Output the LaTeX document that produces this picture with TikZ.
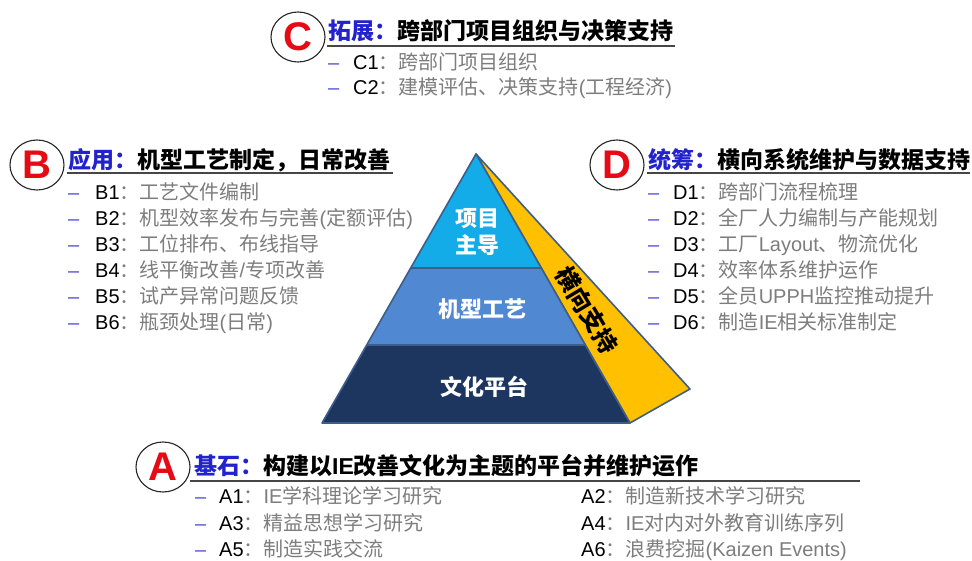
\documentclass[tikz,border=0pt]{standalone}
\usepackage{fontspec}
\usetikzlibrary{shapes.geometric}
\setmainfont{Liberation Sans}
\newfontfamily\cjk{Noto Sans CJK SC}
\newcommand{\zh}[1]{{\cjk #1}}
\definecolor{tblue}{RGB}{35,35,205}
\definecolor{dblue}{RGB}{80,80,210}
\definecolor{tgray}{RGB}{125,125,125}
\definecolor{pyrA}{RGB}{20,172,232}
\definecolor{pyrB}{RGB}{80,137,210}
\definecolor{pyrC}{RGB}{28,54,95}
\definecolor{pyrLine}{RGB}{62,94,137}
\definecolor{yel}{RGB}{255,192,0}
\definecolor{lred}{RGB}{230,10,20}
\definecolor{uline}{RGB}{70,70,70}
\begin{document}
\begin{tikzpicture}[x=1pt,y=-1pt,
  circ/.style={ellipse, draw=black!85, line width=1.1pt, fill=white,
    minimum width=54pt, minimum height=50pt, inner sep=0pt,
    text=lred, font=\fontsize{40}{40}\selectfont\bfseries},
  ttl/.style={anchor=base west, inner sep=0pt, font=\fontsize{23}{23}\selectfont\bfseries\cjk},
  itm/.style={anchor=base west, inner sep=0pt, font=\fontsize{20}{20}\selectfont},
  dsh/.style={itm, text=dblue},
  ul/.style={draw=uline, line width=1.4pt},
  layer/.style={draw=pyrLine, line width=1.6pt, line join=round},
  ptxt/.style={text=white, inner sep=0pt, font=\fontsize{22}{22}\selectfont\bfseries\cjk}
]
\useasboundingbox (0,0) rectangle (972,561);

% ---------- pyramid ----------
\coordinate (apex) at (476,154);
\coordinate (bl) at (322,423);
\coordinate (br) at (630,423);
\coordinate (l1) at (410.7,268);
\coordinate (r1) at (541.3,268);
\coordinate (l2) at (366.7,345);
\coordinate (r2) at (585.3,345);
\coordinate (yo) at (690,389);
\filldraw[layer, fill=yel] (apex) -- (yo) -- (br) -- cycle;
\filldraw[layer, fill=pyrC] (l2) -- (r2) -- (br) -- (bl) -- cycle;
\filldraw[layer, fill=pyrB] (l1) -- (r1) -- (r2) -- (l2) -- cycle;
\filldraw[layer, fill=pyrA] (apex) -- (r1) -- (l1) -- cycle;
\node[ptxt] (p1a) at (477,219) {项目};
\node[ptxt] (p1b) at (477,245) {主导};
\node[ptxt] (p2) at (482,309) {机型工艺};
\node[ptxt] (p3) at (484,387) {文化平台};
\node[inner sep=0pt, rotate=-59, font=\fontsize{24}{24}\selectfont\bfseries\cjk] (side) at (587,310) {横向支持};

% ---------- C ----------
\node[circ] (cC) at (298,37) {C};
\node[ttl] (tC) at (328,39.7) {\textcolor{tblue}{拓展：}跨部门项目组织与决策支持};
\draw[ul] (327,46) -- (675,46);
\node[dsh] (dC1) at (328,69.6) {–};
\node[itm] (iC1) at (353,69.6) {C1\textcolor{tgray}{\zh{：跨部门项目组织}}};
\node[dsh] (dC2) at (328,94.6) {–};
\node[itm] (iC2) at (353,94.6) {C2\textcolor{tgray}{\zh{：建模评估、决策支持}(\zh{工程经济})}};

% ---------- B ----------
\node[circ] (cB) at (37,165) {B};
\node[ttl] (tB) at (68,168.7) {\textcolor{tblue}{应用：}机型工艺制定，日常改善};
\draw[ul] (67,173) -- (393,173);
\foreach \i/\t in {0/{B1\textcolor{tgray}{\zh{：工艺文件编制}}},
                   1/{B2\textcolor{tgray}{\zh{：机型效率发布与完善}(\zh{定额评估})}},
                   2/{B3\textcolor{tgray}{\zh{：工位排布、布线指导}}},
                   3/{B4\textcolor{tgray}{\zh{：线平衡改善}/\zh{专项改善}}},
                   4/{B5\textcolor{tgray}{\zh{：试产异常问题反馈}}},
                   5/{B6\textcolor{tgray}{\zh{：瓶颈处理}(\zh{日常})}}}{
  \node[dsh] (dB\i) at (68,199.6+26*\i) {–};
  \node[itm] (iB\i) at (95,199.6+26*\i) {\t};
}

% ---------- D ----------
\node[circ] (cD) at (617,165) {D};
\node[ttl] (tD) at (648,168.7) {\textcolor{tblue}{统筹：}横向系统维护与数据支持};
\draw[ul] (647,173) -- (970,173);
\foreach \i/\t in {0/{D1\textcolor{tgray}{\zh{：跨部门流程梳理}}},
                   1/{D2\textcolor{tgray}{\zh{：全厂人力编制与产能规划}}},
                   2/{D3\textcolor{tgray}{\zh{：工厂}Layout\zh{、物流优化}}},
                   3/{D4\textcolor{tgray}{\zh{：效率体系维护运作}}},
                   4/{D5\textcolor{tgray}{\zh{：全员}UPPH\zh{监控推动提升}}},
                   5/{D6\textcolor{tgray}{\zh{：制造}IE\zh{相关标准制定}}}}{
  \node[dsh] (dD\i) at (648,199.6+26*\i) {–};
  \node[itm] (iD\i) at (673,199.6+26*\i) {\t};
}

% ---------- A ----------
\node[circ] (cA) at (163,467) {A};
\node[ttl] (tA) at (194,474.5) {\textcolor{tblue}{基石：}构建以{\fontspec{Liberation Sans}IE}改善文化为主题的平台并维护运作};
\draw[ul] (190,481) -- (860,481);
\node[dsh] (dA1) at (195,503.6) {–};
\node[itm] (iA1) at (219,503.6) {A1\textcolor{tgray}{\zh{：}IE\zh{学科理论学习研究}}};
\node[dsh] (dA3) at (195,530.1) {–};
\node[itm] (iA3) at (219,530.1) {A3\textcolor{tgray}{\zh{：精益思想学习研究}}};
\node[dsh] (dA5) at (195,556.6) {–};
\node[itm] (iA5) at (219,556.6) {A5\textcolor{tgray}{\zh{：制造实践交流}}};
\node[itm] (iA2) at (581,503.6) {A2\textcolor{tgray}{\zh{：制造新技术学习研究}}};
\node[itm] (iA4) at (581,530.1) {A4\textcolor{tgray}{\zh{：}IE\zh{对内对外教育训练序列}}};
\node[itm] (iA6) at (581,556.6) {A6\textcolor{tgray}{\zh{：浪费挖掘}(Kaizen Events)}};
\end{tikzpicture}
\end{document}
